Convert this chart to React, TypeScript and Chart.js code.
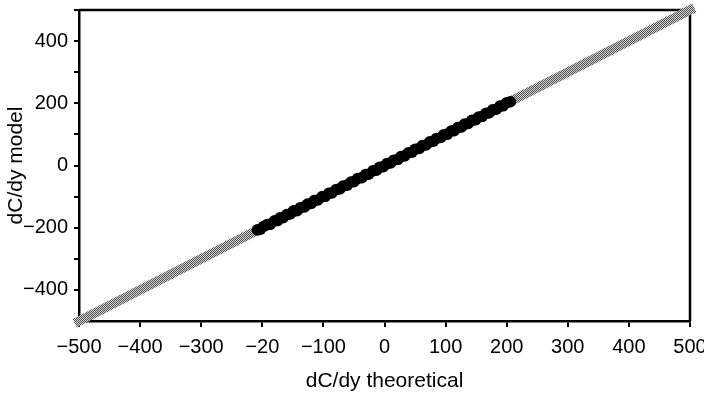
import React, { useEffect, useRef } from "react";
import { Chart, registerables } from "chart.js";

Chart.register(...registerables);

const xTickLabels: Record<string, string> = {
  "-500": "\u2212500", "-400": "\u2212400", "-300": "\u2212300", "-200": "\u221220", "-100": "\u2212100",
  "0": "0", "100": "100", "200": "200", "300": "300", "400": "400", "500": "500",
};
const yTickLabels: Record<string, string> = {
  "-400": "\u2212400", "-200": "\u2212200", "0": "0", "200": "200", "400": "400",
};

const identityLine = [
  { x: -507, y: -507 },
  { x: 507, y: 507 },
];

const theoretical = [
  -208, -203, -198, -192, -187, -180, -175, -171, -166, -160, -154, -149, -143, -138, -131, -126,
  -120, -115, -109, -102, -97, -91, -86, -79, -73, -68, -61, -55, -50, -44, -37, -31, -26, -19,
  -13, -8, -2, 4, 10, 15, 22, 27, 33, 39, 45, 50, 57, 62, 68, 74, 80, 85, 92, 97, 103, 109, 114,
  120, 126, 131, 137, 143, 149, 154, 160, 166, 171, 177, 183, 189, 194, 200, 206,
];
const model = [
  -207, -205, -196, -190, -189, -178, -177, -168, -168, -158, -156, -146, -145, -136, -133, -124,
  -122, -113, -111, -100, -99, -89, -88, -77, -75, -66, -63, -53, -52, -42, -39, -29, -28, -17,
  -15, -6, -4, 6, 8, 17, 20, 29, 31, 41, 43, 52, 55, 64, 66, 76, 78, 87, 90, 99, 101, 111, 112,
  122, 124, 133, 135, 145, 147, 156, 158, 168, 169, 179, 181, 191, 192, 202, 205,
];

function makePattern(): CanvasPattern | string {
  const c = document.createElement("canvas");
  c.width = 2;
  c.height = 2;
  const g = c.getContext("2d");
  if (!g) return "#999";
  g.fillStyle = "#d4d4d4";
  g.fillRect(0, 0, 2, 2);
  g.fillStyle = "#505050";
  g.fillRect(0, 0, 1, 1);
  g.fillRect(1, 1, 1, 1);
  const p = g.createPattern(c, "repeat");
  return p || "#999";
}

const framePlugin = {
  id: "frame",
  beforeDatasetsDraw(chart: any) {
    const { ctx, chartArea } = chart;
    ctx.save();
    ctx.strokeStyle = "#000";
    ctx.lineWidth = 2.5;
    ctx.beginPath();
    ctx.moveTo(chartArea.left, chartArea.top);
    ctx.lineTo(chartArea.right, chartArea.top);
    ctx.lineTo(chartArea.right, chartArea.bottom);
    ctx.stroke();
    ctx.restore();
  },
};

export default function App() {
  const ref = useRef<HTMLCanvasElement>(null);
  useEffect(() => {
    if (!ref.current) return;
    const font = "'Liberation Sans', Arial, sans-serif";
    const points = theoretical.map((x, i) => ({ x, y: model[i] }));
    const chart = new Chart(ref.current, {
      type: "scatter",
      data: {
        datasets: [
          {
            type: "line",
            data: identityLine,
            borderColor: makePattern() as any,
            borderWidth: 9.5,
            pointRadius: 0,
            borderCapStyle: "butt",
            clip: false as any,
            order: 2,
          } as any,
          {
            data: points,
            backgroundColor: "#000",
            borderColor: "#000",
            pointRadius: 5.8,
            borderWidth: 0,
            order: 1,
          },
        ],
      },
      options: {
        animation: false,
        responsive: false,
        plugins: { legend: { display: false }, tooltip: { enabled: false } },
        layout: { padding: { top: 10, right: 14, left: 0, bottom: 0 } },
        scales: {
          x: {
            type: "linear",
            min: -500,
            max: 500,
            afterFit: (s: any) => {
              s.height = 74;
              s.paddingLeft = 0;
              s.paddingRight = 0;
            },
            ticks: {
              stepSize: 100,
              color: "#000",
              font: { family: font, size: 20 },
              padding: 8,
              maxRotation: 0,
              autoSkip: false,
              callback: (v: any) => xTickLabels[String(v)] ?? "",
            },
            grid: { drawOnChartArea: false, color: "#000", lineWidth: 2, tickLength: 6 },
            border: { display: true, color: "#000", width: 2.5 },
            title: {
              display: true,
              text: "dC/dy theoretical",
              color: "#000",
              font: { family: font, size: 21 },
              padding: { top: 4, bottom: 1 },
            },
          },
          y: {
            type: "linear",
            min: -500,
            max: 500,
            afterFit: (s: any) => {
              s.width = 79;
              s.paddingTop = 0;
              s.paddingBottom = 0;
            },
            ticks: {
              stepSize: 100,
              color: "#000",
              font: { family: font, size: 20 },
              padding: 6,
              autoSkip: false,
              callback: (v: any) => yTickLabels[String(v)] ?? "",
            },
            grid: { drawOnChartArea: false, color: "#000", lineWidth: 2, tickLength: 5 },
            border: { display: true, color: "#000", width: 2.5 },
            title: {
              display: true,
              text: "dC/dy model",
              color: "#000",
              font: { family: font, size: 21 },
              padding: { top: 4, bottom: 2 },
            },
          },
        },
      },
      plugins: [framePlugin],
    });
    return () => chart.destroy();
  }, []);
  return (
    <div style={{ position: "fixed", left: 0, top: 0, width: 704, height: 395, background: "#fff" }}>
      <canvas ref={ref} width={704} height={395} />
    </div>
  );
}
